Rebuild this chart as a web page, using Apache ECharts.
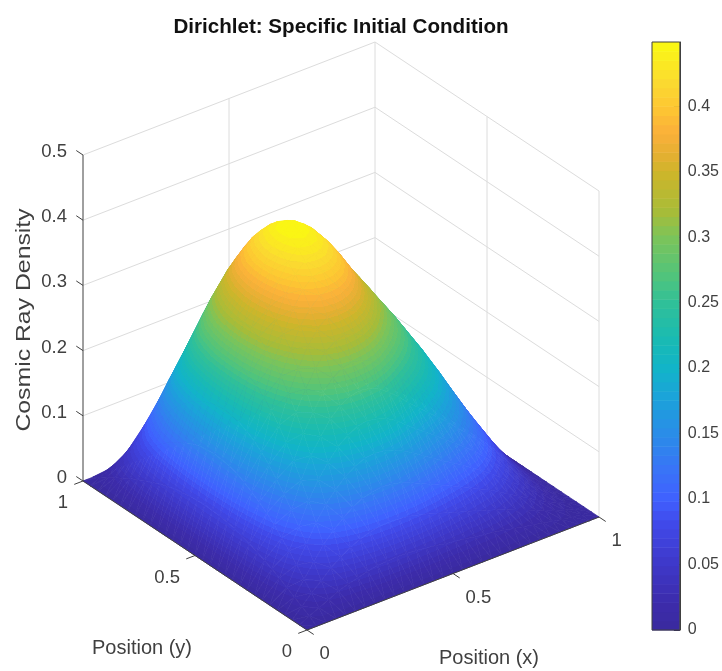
<!DOCTYPE html>
<html><head><meta charset="utf-8"><style>html,body{margin:0;background:#fff}#c{width:722px;height:671px}</style>
<script src="https://cdn.jsdelivr.net/npm/echarts@6/dist/echarts.min.js"></script></head><body><div id="c"></div>
<script>
// Cosmic ray density read from the surface: one row per y step (y=0 .. 1), columns run x=0 .. 1
const row00=[0,0,0,0,0,0,0,0,0,0,0,0,0,0,0,0,0,0,0,0,0,0,0,0,0,0,0,0,0,0,0];
const row01=[0,.008,.015,.022,.029,.034,.038,.042,.045,.046,.047,.046,.045,.043,.041,.038,.036,.034,.031,.029,.027,.024,.021,.018,.015,.012,.009,.006,.004,.002,0];
const row02=[0,.015,.030,.043,.057,.068,.077,.084,.089,.092,.093,.092,.090,.086,.082,.077,.072,.067,.063,.058,.053,.048,.042,.036,.030,.024,.018,.012,.007,.003,0];
const row03=[0,.022,.044,.064,.085,.101,.114,.125,.133,.137,.139,.137,.134,.128,.121,.114,.107,.100,.093,.086,.078,.071,.062,.053,.044,.035,.026,.018,.011,.005,0];
const row04=[0,.029,.058,.084,.111,.133,.150,.164,.174,.181,.183,.181,.176,.169,.160,.150,.141,.131,.122,.113,.103,.093,.082,.070,.058,.047,.035,.024,.015,.006,0];
const row05=[0,.036,.072,.103,.137,.164,.184,.202,.214,.222,.225,.222,.217,.208,.196,.184,.173,.162,.150,.139,.127,.115,.101,.086,.072,.057,.043,.029,.018,.008,0];
const row06=[0,.042,.084,.121,.161,.193,.216,.238,.252,.261,.264,.261,.255,.244,.231,.216,.203,.190,.177,.164,.149,.135,.119,.102,.084,.067,.050,.034,.021,.009,0];
const row07=[0,.048,.096,.138,.183,.219,.246,.270,.287,.297,.300,.297,.290,.278,.263,.246,.231,.216,.201,.186,.170,.153,.135,.116,.096,.077,.057,.039,.024,.011,0];
const row08=[0,.053,.107,.153,.204,.244,.274,.300,.319,.330,.334,.330,.322,.309,.292,.274,.257,.240,.224,.207,.189,.170,.150,.128,.107,.085,.063,.043,.027,.012,0];
const row09=[0,.058,.116,.167,.222,.265,.298,.327,.347,.360,.363,.360,.351,.336,.318,.298,.280,.262,.243,.225,.205,.185,.164,.140,.116,.093,.069,.047,.029,.013,0];
const row10=[0,.062,.124,.179,.237,.284,.319,.350,.371,.385,.389,.385,.375,.360,.340,.319,.299,.280,.261,.241,.220,.198,.175,.150,.124,.099,.074,.051,.031,.014,0];
const row11=[0,.066,.131,.189,.250,.299,.336,.369,.392,.406,.410,.406,.396,.379,.359,.336,.316,.295,.275,.254,.232,.209,.185,.158,.131,.105,.078,.053,.033,.014,0];
const row12=[0,.068,.137,.196,.261,.312,.350,.384,.408,.423,.427,.423,.412,.395,.374,.350,.329,.308,.286,.265,.241,.218,.192,.164,.137,.109,.081,.056,.034,.015,0];
const row13=[0,.070,.141,.202,.268,.321,.360,.395,.419,.435,.439,.435,.424,.406,.384,.360,.338,.316,.294,.272,.248,.224,.198,.169,.141,.112,.083,.057,.035,.015,0];
const row14=[0,.071,.143,.205,.272,.326,.366,.402,.426,.442,.447,.442,.431,.413,.391,.366,.344,.322,.299,.277,.252,.228,.201,.172,.143,.114,.085,.058,.036,.016,0];
const row15=[0,.072,.144,.207,.274,.328,.368,.404,.429,.445,.449,.445,.433,.415,.393,.368,.346,.323,.301,.278,.254,.229,.202,.173,.144,.115,.085,.058,.036,.016,0];
const row16=[0,.071,.143,.205,.272,.326,.366,.402,.426,.442,.447,.442,.431,.413,.391,.366,.344,.322,.299,.277,.252,.228,.201,.172,.143,.114,.085,.058,.036,.016,0];
const row17=[0,.070,.141,.202,.268,.321,.360,.395,.419,.435,.439,.435,.424,.406,.384,.360,.338,.316,.294,.272,.248,.224,.198,.169,.141,.112,.083,.057,.035,.015,0];
const row18=[0,.068,.137,.196,.261,.312,.350,.384,.408,.423,.427,.423,.412,.395,.374,.350,.329,.308,.286,.265,.241,.218,.192,.164,.137,.109,.081,.056,.034,.015,0];
const row19=[0,.066,.131,.189,.250,.299,.336,.369,.392,.406,.410,.406,.396,.379,.359,.336,.316,.295,.275,.254,.232,.209,.185,.158,.131,.105,.078,.053,.033,.014,0];
const row20=[0,.062,.124,.179,.237,.284,.319,.350,.371,.385,.389,.385,.375,.360,.340,.319,.299,.280,.261,.241,.220,.198,.175,.150,.124,.099,.074,.051,.031,.014,0];
const row21=[0,.058,.116,.167,.222,.265,.298,.327,.347,.360,.363,.360,.351,.336,.318,.298,.280,.262,.243,.225,.205,.185,.164,.140,.116,.093,.069,.047,.029,.013,0];
const row22=[0,.053,.107,.153,.204,.244,.274,.300,.319,.330,.334,.330,.322,.309,.292,.274,.257,.240,.224,.207,.189,.170,.150,.128,.107,.085,.063,.043,.027,.012,0];
const row23=[0,.048,.096,.138,.183,.219,.246,.270,.287,.297,.300,.297,.290,.278,.263,.246,.231,.216,.201,.186,.170,.153,.135,.116,.096,.077,.057,.039,.024,.011,0];
const row24=[0,.042,.084,.121,.161,.193,.216,.238,.252,.261,.264,.261,.255,.244,.231,.216,.203,.190,.177,.164,.149,.135,.119,.102,.084,.067,.050,.034,.021,.009,0];
const row25=[0,.036,.072,.103,.137,.164,.184,.202,.214,.222,.225,.222,.217,.208,.196,.184,.173,.162,.150,.139,.127,.115,.101,.086,.072,.057,.043,.029,.018,.008,0];
const row26=[0,.029,.058,.084,.111,.133,.150,.164,.174,.181,.183,.181,.176,.169,.160,.150,.141,.131,.122,.113,.103,.093,.082,.070,.058,.047,.035,.024,.015,.006,0];
const row27=[0,.022,.044,.064,.085,.101,.114,.125,.133,.137,.139,.137,.134,.128,.121,.114,.107,.100,.093,.086,.078,.071,.062,.053,.044,.035,.026,.018,.011,.005,0];
const row28=[0,.015,.030,.043,.057,.068,.077,.084,.089,.092,.093,.092,.090,.086,.082,.077,.072,.067,.063,.058,.053,.048,.042,.036,.030,.024,.018,.012,.007,.003,0];
const row29=[0,.008,.015,.022,.029,.034,.038,.042,.045,.046,.047,.046,.045,.043,.041,.038,.036,.034,.031,.029,.027,.024,.021,.018,.015,.012,.009,.006,.004,.002,0];
const row30=[0,0,0,0,0,0,0,0,0,0,0,0,0,0,0,0,0,0,0,0,0,0,0,0,0,0,0,0,0,0,0];
const zGrid=[row00,row01,row02,row03,row04,row05,row06,row07,row08,row09,row10,row11,row12,row13,row14,row15,row16,row17,row18,row19,row20,row21,row22,row23,row24,row25,row26,row27,row28,row29,row30];
const zTicks=[0,.1,.2,.3,.4,.5];
const planeTicks=[0,.5,1];
const barTicks=[0,.05,.1,.15,.2,.25,.3,.35,.4];
const colorStops=[[0,'#3a2a9e'],[.02,'#3c2bab'],[.05,'#3e38c8'],[.08,'#4048e8'],[.10,'#4060ff'],[.12,'#3a72f8'],[.15,'#2a8ce8'],[.18,'#1aa5d8'],[.20,'#12b4c8'],[.22,'#18bab5'],[.25,'#30c098'],[.27,'#50c47c'],[.30,'#7cc45a'],[.32,'#a8bc38'],[.35,'#cfb52a'],[.36,'#e0b030'],[.38,'#fbb03a'],[.40,'#fdc832'],[.42,'#fbdc30'],[.449,'#fafa10']];
const BANDS=64, cmax=0.449;
function hex(c){return [1,3,5].map(i=>parseInt(c.substr(i,2),16));}
function cmapRaw(v){
  for(let k=1;k<colorStops.length;k++){ if(v<=colorStops[k][0]){
    const a=colorStops[k-1],b=colorStops[k],t=(v-a[0])/(b[0]-a[0]),A=hex(a[1]),B=hex(b[1]);
    return 'rgb('+A.map((q,i)=>Math.round(q+(B[i]-q)*t)).join(',')+')';}}
  return colorStops[colorStops.length-1][1];
}
const bandColors=[];for(let k=0;k<BANDS;k++)bandColors.push(cmapRaw((k+.5)/BANDS*cmax));
function bandOf(v){return Math.max(0,Math.min(BANDS-1,Math.floor(v/cmax*BANDS)));}
function project(x,y,z){return [307+292*x-224*y,630-113*x-149*y-652*z];}
const ny=zGrid.length-1,nx=row00.length-1;
const tris=[];
for(let j=ny-1;j>=0;j--)for(let i=nx-1;i>=0;i--){
  const v=(a,b)=>[a/nx,b/ny,zGrid[b][a]];
  const A=v(i+1,j+1),B=v(i,j+1),C=v(i,j),D=v(i+1,j);
  tris.push([A,B,D],[B,C,D]);
}
function triFill(P){
  const [p0,p1,p2]=P;
  const d1=[p1[0]-p0[0],p1[1]-p0[1],p1[2]-p0[2]],d2=[p2[0]-p0[0],p2[1]-p0[1],p2[2]-p0[2]];
  const det=d1[0]*d2[1]-d1[1]*d2[0];
  const zs=P.map(p=>p[2]);const zmin=Math.min(...zs),zmax=Math.max(...zs);
  if(Math.abs(det)<1e-6||bandOf(zmin)===bandOf(zmax))return bandColors[bandOf((zmin+zmax)/2)];
  const a=(d1[2]*d2[1]-d1[1]*d2[2])/det,b=(d1[0]*d2[2]-d1[2]*d2[0])/det;
  const m=a*a+b*b,lo=P[zs.indexOf(zmin)];
  const dz=zmax-zmin;
  const x2=lo[0]+a*dz/m,y2=lo[1]+b*dz/m;
  const stops=[];
  const b0=bandOf(zmin),b1=bandOf(zmax);
  for(let k=b0;k<=b1;k++){
    const s=Math.max(0,((k/BANDS*cmax)-zmin)/dz),e=Math.min(1,(((k+1)/BANDS*cmax)-zmin)/dz);
    stops.push({offset:s,color:bandColors[k]},{offset:e,color:bandColors[k]});
  }
  return new echarts.graphic.LinearGradient(lo[0],lo[1],x2,y2,stops,true);
}
const wallSegs=[];
zTicks.forEach(z=>{wallSegs.push([[0,1,z],[1,1,z]],[[1,1,z],[1,0,z]]);});
[[.5,1],[1,1],[1,.5],[1,0]].forEach(q=>wallSegs.push([[q[0],q[1],0],[q[0],q[1],.5]]));
const axisSegs=[[[0,1,0],[0,1,.5]],[[0,0,0],[0,1,0]],[[0,0,0],[1,0,0]]];
zTicks.forEach(z=>axisSegs.push([[0,1,z],[0,1.03,z]]));
planeTicks.forEach(t=>{axisSegs.push([[t,0,0],[t,-.03,0]],[[0,t,0],[-.03,t,0]]);});
const labels=[];
zTicks.forEach(z=>{const p=project(0,1,z);labels.push({t:String(z),x:p[0]-16,y:p[1]-3,a:'right',s:18.5});});
planeTicks.forEach(t=>{let p=project(0,t,0);labels.push({t:String(t),x:p[0]-15,y:p[1]+22,a:'right',s:18.5});
 p=project(t,0,0);labels.push({t:String(t),x:p[0]+12.5,y:p[1]+24,a:'left',s:18.5});});
let pm=project(0,.5,0);labels.push({t:'Position (y)',x:pm[0]-53,y:pm[1]+93,a:'center',s:20});
pm=project(.5,0,0);labels.push({t:'Position (x)',x:pm[0]+36,y:pm[1]+84.5,a:'center',s:20});
pm=project(0,1,.25);labels.push({t:'Cosmic Ray Density',x:pm[0]-59,y:pm[1]+2,a:'center',s:20,rot:Math.PI/2,sx:1.24});
const idx=n=>Array.from({length:n},(_,i)=>[0,0,i]);
const chart=echarts.init(document.getElementById('c'),null,{renderer:'canvas'});
const lineEl=(api,s,col,w)=>{const a=api.coord(project(...s[0])),b=api.coord(project(...s[1]));
  return {type:'line',shape:{x1:a[0],y1:a[1],x2:b[0],y2:b[1]},style:{stroke:col,lineWidth:w},silent:true};};
chart.setOption({
  animation:false,backgroundColor:'#fff',
  title:{text:'Dirichlet: Specific Initial Condition',left:336,top:12,textAlign:'center',textStyle:{fontFamily:'Liberation Sans',fontWeight:'bold',fontSize:20.6,color:'#111'}},
  grid:[{left:0,top:0,width:722,height:671,show:false},{left:652,top:42,width:30,height:588,show:false}],
  xAxis:[{type:'value',min:0,max:722,show:false,gridIndex:0},{type:'value',min:0,max:1,show:false,gridIndex:1}],
  yAxis:[{type:'value',min:0,max:671,inverse:true,show:false,gridIndex:0},
    {type:'value',min:0,max:cmax,interval:.05,gridIndex:1,position:'right',splitLine:{show:false},
     axisLine:{show:true,onZero:false,lineStyle:{color:'#404040'}},
     axisTick:{show:true,inside:true,length:6,lineStyle:{color:'#262626'}},
     axisLabel:{show:true,margin:8,padding:[5,0,0,0],fontFamily:'Liberation Sans',fontSize:16,color:'#404040',
       customValues:barTicks,formatter:v=>String(+v.toFixed(2))}}],
  series:[
   {type:'custom',coordinateSystem:'cartesian2d',xAxisIndex:0,yAxisIndex:0,silent:true,clip:false,data:idx(wallSegs.length),
    renderItem:(p,api)=>lineEl(api,wallSegs[api.value(2)],'#dcdcdc',1)},
   {type:'custom',coordinateSystem:'cartesian2d',xAxisIndex:0,yAxisIndex:0,silent:true,clip:false,progressive:0,data:idx(tris.length),
    renderItem:(p,api)=>{const T=tris[api.value(2)];
      const P=T.map(q=>{const c=api.coord(project(q[0],q[1],q[2]));return [c[0],c[1],q[2]];});
      const f=triFill(P);
      return {type:'polygon',shape:{points:P.map(q=>[q[0],q[1]])},style:{fill:f,stroke:f,lineWidth:.7},silent:true};}},
   {type:'custom',coordinateSystem:'cartesian2d',xAxisIndex:0,yAxisIndex:0,silent:true,clip:false,data:idx(axisSegs.length),
    renderItem:(p,api)=>lineEl(api,axisSegs[api.value(2)],'#404040',1)},
   {type:'custom',coordinateSystem:'cartesian2d',xAxisIndex:0,yAxisIndex:0,silent:true,clip:false,data:idx(labels.length),
    renderItem:(p,api)=>{const L=labels[api.value(2)],c=api.coord([L.x,L.y]);
      return {type:'text',x:c[0],y:c[1],rotation:L.rot||0,scaleX:L.sx||1,silent:true,
        style:{text:L.t,x:0,y:0,align:L.a,verticalAlign:'middle',fontFamily:'Liberation Sans',fontSize:L.s,fill:'#404040'}};}},
   {type:'custom',coordinateSystem:'cartesian2d',xAxisIndex:1,yAxisIndex:1,silent:true,clip:false,data:idx(BANDS),
    renderItem:(p,api)=>{const k=api.value(2),a=api.coord([0,(k+1)/BANDS*cmax]),b=api.coord([1,k/BANDS*cmax]);
      return {type:'rect',shape:{x:a[0],y:a[1],width:b[0]-a[0],height:b[1]-a[1]+.5},style:{fill:bandColors[k]},silent:true};}},
   {type:'custom',coordinateSystem:'cartesian2d',xAxisIndex:1,yAxisIndex:1,silent:true,clip:false,data:idx(1),z:5,
    renderItem:(p,api)=>{const a=api.coord([0,cmax]),b=api.coord([1,0]);
      return {type:'rect',shape:{x:a[0],y:a[1],width:b[0]-a[0],height:b[1]-a[1]},style:{fill:'none',stroke:'#404040',lineWidth:1},silent:true};}}
  ]
});
</script></body></html>
